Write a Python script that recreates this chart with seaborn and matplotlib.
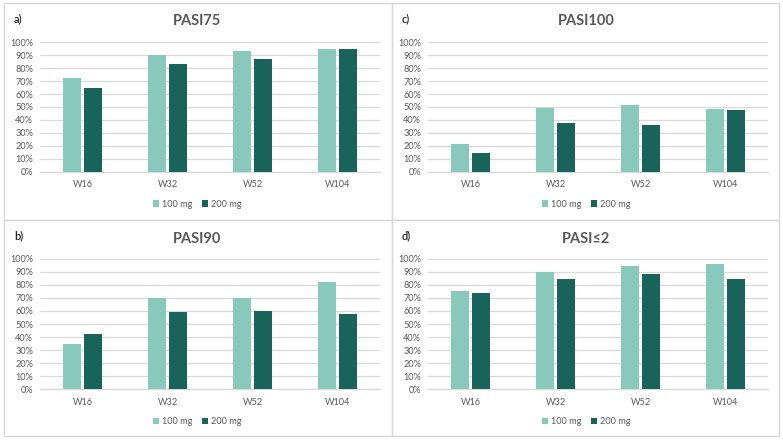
"""
Four-panel grouped bar chart: PASI response rates by week for two doses.
"""
import numpy as np
import pandas as pd
import matplotlib
matplotlib.use("Agg")
import matplotlib.pyplot as plt
from matplotlib.patches import Rectangle, Patch
from matplotlib.ticker import MultipleLocator, PercentFormatter
import seaborn as sns

# Data (percent of patients)
weeks = ["W16", "W32", "W52", "W104"]
doses = ["100 mg", "200 mg"]

pasi75_100 = [72.4, 90.2, 93.3, 94.6]
pasi75_200 = [64.9, 83.5, 87.1, 95.1]

pasi90_100 = [34.7, 70.2, 70.2, 82.4]
pasi90_200 = [42.6, 59.2, 59.7, 57.9]

pasi100_100 = [21.4, 49.5, 51.3, 48.2]
pasi100_200 = [14.7, 37.4, 36.3, 47.4]

pasi2_100 = [75.0, 90.0, 94.4, 95.9]
pasi2_200 = [73.5, 84.4, 88.3, 84.2]

# Styling
W, H = 783, 441
LIGHT = "#89C9BC"
DARK = "#18635A"
TEXT = "#595959"
GRID = "#D9D9D9"
FONT = ["Lato", "DejaVu Sans"]

sns.set_theme(style="white")
plt.rcParams["font.family"] = FONT


def long_df(v100, v200):
    return pd.DataFrame({
        "week": weeks * 2,
        "dose": [doses[0]] * len(weeks) + [doses[1]] * len(weeks),
        "value": list(v100) + list(v200),
    })


# (letter, title, 100 mg, 200 mg, axes box in px: left, right, top(100%), bottom(0%), panel centre x, legend y, title y, letter y)
panels = [
    ("a)", "PASI75", pasi75_100, pasi75_200, (40, 380, 42.3, 171.7), 197, 204, 21, 19),
    ("c)", "PASI100", pasi100_100, pasi100_200, (428, 768, 42.3, 171.7), 586, 204, 21, 19),
    ("b)", "PASI90", pasi90_100, pasi90_200, (40, 380, 258.7, 389.3), 197, 421.5, 239, 236),
    ("d)", "PASI\u22642", pasi2_100, pasi2_200, (428, 768, 258.7, 389.3), 586, 421.5, 239, 236),
]

fig = plt.figure(figsize=(W / 100, H / 100), dpi=100)
fig.patch.set_facecolor("white")

# Panel frames
for (x0, y0, x1, y1) in [(4, 3, 392, 220), (392, 3, 779, 220), (4, 220, 392, 436), (392, 220, 779, 436)]:
    fig.add_artist(Rectangle((x0 / W, 1 - y1 / H), (x1 - x0) / W, (y1 - y0) / H,
                             transform=fig.transFigure, fill=False,
                             edgecolor=GRID, linewidth=1.0))

for letter, title, v100, v200, box, cx, leg_y, title_y, letter_y in panels:
    left, right, top, bottom = box
    ax = fig.add_axes([left / W, 1 - bottom / H, (right - left) / W, (bottom - top) / H])
    df = long_df(v100, v200)
    sns.barplot(data=df, x="week", y="value", hue="dose", order=weeks, hue_order=doses,
                palette=[LIGHT, DARK], saturation=1, width=0.5, gap=0.14, errorbar=None,
                legend=False, ax=ax, zorder=3, linewidth=0)
    ax.set_ylim(0, 100)
    ax.set_xlim(-0.5, len(weeks) - 0.5)
    ax.yaxis.set_major_locator(MultipleLocator(10))
    ax.yaxis.set_major_formatter(PercentFormatter(decimals=0))
    ax.grid(axis="y", color=GRID, linewidth=0.9, zorder=0)
    ax.set_axisbelow(True)
    for s in ["top", "right", "left"]:
        ax.spines[s].set_visible(False)
    ax.spines["bottom"].set_color(GRID)
    ax.spines["bottom"].set_linewidth(1.0)
    ax.set_xlabel("")
    ax.set_ylabel("")
    ax.tick_params(axis="both", length=0, labelsize=6.6, colors=TEXT)
    ax.tick_params(axis="y", pad=5)
    ax.tick_params(axis="x", pad=6)

    fig.text(cx / W, 1 - title_y / H, title, ha="center", va="center",
             fontsize=10.5, fontweight="bold", color=TEXT)
    fig.text((left - 26) / W, 1 - letter_y / H, letter, ha="left", va="center",
             fontsize=8, color="#222222", fontweight="semibold")

    handles = [Patch(facecolor=LIGHT, edgecolor="none"), Patch(facecolor=DARK, edgecolor="none")]
    ax.legend(handles, doses, loc="center", bbox_to_anchor=(cx / W, 1 - leg_y / H),
              bbox_transform=fig.transFigure, ncol=2, frameon=False,
              fontsize=6.6, labelcolor=TEXT, handlelength=0.7, handleheight=0.7,
              handletextpad=0.3, columnspacing=1.0)

fig.savefig("out.png", dpi=100, facecolor="white")
